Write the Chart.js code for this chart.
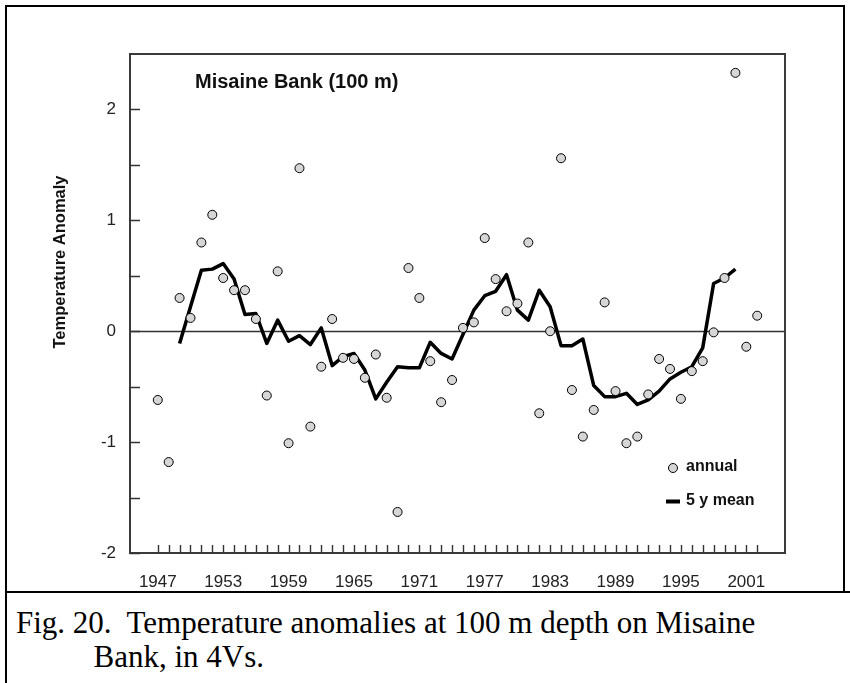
<!DOCTYPE html>
<html><head><meta charset="utf-8">
<script src="https://cdn.jsdelivr.net/npm/chart.js@4.4.0/dist/chart.umd.min.js"></script>
<style>
html,body{margin:0;padding:0;background:#fff;}
#wrap{position:relative;width:850px;height:683px;overflow:hidden;background:#fff;}
#cvbox{position:absolute;left:0;top:0;width:850px;height:592px;}
.b{position:absolute;background:#000;}
#cap{position:absolute;left:16px;top:606px;font-family:"Liberation Serif","Times New Roman",serif;font-size:31px;line-height:34px;color:#000;white-space:pre;}
</style></head><body>
<div id="wrap">
  <div id="cvbox"><canvas id="cv" width="850" height="592"></canvas></div>
  <div class="b" style="left:5px;top:5px;width:2px;height:678px"></div>
  <div class="b" style="left:5px;top:5px;width:840px;height:2px"></div>
  <div class="b" style="left:843px;top:5px;width:2px;height:588px"></div>
  <div class="b" style="left:5px;top:591px;width:845px;height:2px"></div>
  <div id="cap">Fig. 20.  Temperature anomalies at 100 m depth on Misaine
          Bank, in 4Vs.</div>
</div>
<script>
// ---- data ----
const years = [1947,1948,1949,1950,1951,1952,1953,1954,1955,1956,1957,1958,1959,1960,
  1961,1962,1963,1964,1965,1966,1967,1968,1969,1970,1971,1972,1973,1974,1975,1976,1977,
  1978,1979,1980,1981,1982,1983,1984,1985,1986,1987,1988,1989,1990,1991,1992,1993,1994,
  1995,1996,1997,1998,1999,2000,2001,2002];
const annual = [-0.62,-1.18,0.30,0.12,0.80,1.05,0.48,0.37,0.37,0.11,-0.58,0.54,-1.01,1.47,
  -0.86,-0.32,0.11,-0.24,-0.25,-0.42,-0.21,-0.60,-1.63,0.57,0.30,-0.27,-0.64,-0.44,0.03,0.08,0.84,
  0.47,0.18,0.25,0.80,-0.74,0.00,1.56,-0.53,-0.95,-0.71,0.26,-0.54,-1.01,-0.95,-0.57,-0.25,-0.34,
  -0.61,-0.36,-0.27,-0.01,0.48,2.33,-0.14,0.14];
const meanYears = [1949,1950,1951,1952,1953,1954,1955,1956,1957,1958,1959,1960,
  1961,1962,1963,1964,1965,1966,1967,1968,1969,1970,1971,1972,1973,1974,1975,1976,1977,
  1978,1979,1980,1981,1982,1983,1984,1985,1986,1987,1988,1989,1990,1991,1992,1993,1994,
  1995,1996,1997,1998,1999,2000];
const mean5 = [-0.11,0.22,0.55,0.56,0.61,0.47,0.15,0.16,-0.11,0.10,-0.09,-0.04,
  -0.12,0.03,-0.31,-0.23,-0.20,-0.35,-0.61,-0.46,-0.32,-0.33,-0.33,-0.10,-0.20,-0.25,-0.03,0.19,0.32,
  0.36,0.51,0.19,0.10,0.37,0.22,-0.13,-0.13,-0.07,-0.49,-0.59,-0.59,-0.56,-0.66,-0.62,-0.54,-0.43,
  -0.37,-0.32,-0.15,0.43,0.48,0.56];
const xLabelYears = [1947,1953,1959,1965,1971,1977,1983,1989,1995,2001];
const yLabelValues = [-2,-1,0,1,2];
const yTickMarks = [-2,-1.5,-1,-0.5,0,0.5,1,1.5,2];
const chartTitle = "Misaine Bank (100 m)";
const yTitle = "Temperature Anomaly";
const legendAnnual = "annual";
const legendMean = "5 y mean";

const annualPts = years.map((y,i)=>({x:y,y:annual[i]}));
const meanPts = meanYears.map((y,i)=>({x:y,y:mean5[i]}));

const SANS = '"Liberation Sans", Arial, Helvetica, sans-serif';
const POINT_FILL = '#d6d6d6';

const deco = {
  id:'deco',
  beforeDatasetsDraw(chart){
    const {ctx, chartArea:a, scales:{y}} = chart;
    ctx.save();
    ctx.strokeStyle='#333'; ctx.lineWidth=1.3;
    const y0 = Math.round(y.getPixelForValue(0))+0.5;
    ctx.beginPath(); ctx.moveTo(a.left,y0); ctx.lineTo(a.right,y0); ctx.stroke();
    ctx.restore();
  },
  afterDraw(chart){
    const {ctx, chartArea:a, scales:{x,y}} = chart;
    ctx.save();
    // frame
    ctx.strokeStyle='#3a3a3a'; ctx.lineWidth=2;
    ctx.strokeRect(a.left,a.top,a.right-a.left,a.bottom-a.top);
    // tick marks (inward)
    ctx.lineWidth=1.4; ctx.strokeStyle='#333';
    ctx.beginPath();
    years.forEach(v=>{const px=Math.round(x.getPixelForValue(v))+0.5; ctx.moveTo(px,a.bottom); ctx.lineTo(px,a.bottom-8);});
    yTickMarks.forEach(v=>{const py=Math.round(y.getPixelForValue(v))+0.5; ctx.moveTo(a.left,py); ctx.lineTo(a.left+10,py);});
    ctx.stroke();
    // chart title
    ctx.fillStyle='#111';
    ctx.font='bold 20px '+SANS; ctx.textAlign='left'; ctx.textBaseline='middle';
    ctx.fillText(chartTitle,195,82);
    // y title
    ctx.save();
    ctx.translate(60,262); ctx.rotate(-Math.PI/2);
    ctx.font='bold 16.5px '+SANS; ctx.textAlign='center'; ctx.textBaseline='middle';
    ctx.fillText(yTitle,0,0);
    ctx.restore();
    // legend
    ctx.beginPath(); ctx.arc(673,468,4.5,0,Math.PI*2);
    ctx.fillStyle=POINT_FILL; ctx.fill(); ctx.lineWidth=1; ctx.strokeStyle='#000'; ctx.stroke();
    ctx.fillStyle='#111'; ctx.font='bold 16px '+SANS; ctx.textAlign='left'; ctx.textBaseline='middle';
    ctx.fillText(legendAnnual,686,467);
    ctx.lineWidth=4; ctx.strokeStyle='#000';
    ctx.beginPath(); ctx.moveTo(666,501.5); ctx.lineTo(680,501.5); ctx.stroke();
    ctx.fillText(legendMean,686,501);
    ctx.restore();
  }
};

new Chart(document.getElementById('cv'),{
  data:{datasets:[
    {type:'scatter',label:legendAnnual,data:annualPts,pointRadius:4.5,pointHoverRadius:4.5,
     backgroundColor:POINT_FILL,borderColor:'#000',borderWidth:1,order:0},
    {type:'line',label:legendMean,data:meanPts,borderColor:'#000',borderWidth:3.5,
     pointRadius:0,tension:0,fill:false,order:1,borderJoinStyle:'round',borderCapStyle:'butt'}
  ]},
  options:{
    responsive:false,animation:false,
    layout:{padding:{left:0,top:54,right:65,bottom:0}},
    plugins:{legend:{display:false},tooltip:{enabled:false},title:{display:false}},
    scales:{
      x:{type:'linear',min:1944.45,max:2004.55,
        afterBuildTicks:s=>{s.ticks=xLabelYears.map(v=>({value:v}));},
        afterFit:s=>{s.height=39;},
        grid:{display:false,drawTicks:false},border:{display:false},
        ticks:{autoSkip:false,maxRotation:0,padding:19,color:'#222',
          font:{family:SANS,size:17},callback:v=>String(v)}},
      y:{type:'linear',min:-2,max:2.5,
        afterBuildTicks:s=>{s.ticks=yLabelValues.map(v=>({value:v}));},
        afterFit:s=>{s.width=130;},
        grid:{display:false,drawTicks:false},border:{display:false},
        ticks:{padding:14,color:'#222',font:{family:SANS,size:17},callback:v=>String(v)}}
    }
  },
  plugins:[deco]
});
</script>
</body></html>
